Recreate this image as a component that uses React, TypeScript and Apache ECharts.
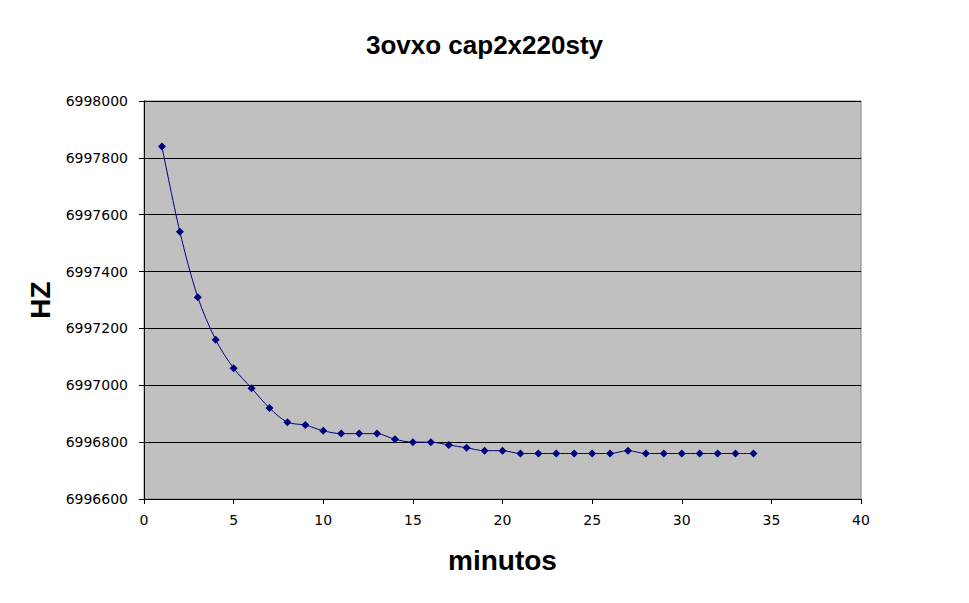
import React, { useEffect, useRef } from "react";
import * as echarts from "echarts";

const minutes = [1,2,3,4,5,6,7,8,9,10,11,12,13,14,15,16,17,18,19,20,21,22,23,24,25,26,27,28,29,30,31,32,33,34];
const hz = [6997840,6997540,6997310,6997160,6997060,6996990,6996920,6996870,6996860,6996840,6996830,6996830,6996830,6996810,6996800,6996800,6996790,6996780,6996770,6996770,6996760,6996760,6996760,6996760,6996760,6996760,6996770,6996760,6996760,6996760,6996760,6996760,6996760,6996760];

const titleText = "3ovxo cap2x220sty";
const xName = "minutos";
const yName = "HZ";

export default function App() {
  const ref = useRef<HTMLDivElement>(null);
  useEffect(() => {
    const chart = echarts.init(ref.current!, null, { renderer: "svg" });
    const font = "Arial, 'Liberation Sans', sans-serif";
    const tickFont = "'DejaVu Sans', sans-serif";
    chart.setOption({
      animation: false,
      backgroundColor: "#ffffff",
      title: {
        text: titleText,
        left: "center",
        top: 27,
        textStyle: { fontFamily: font, fontSize: 26, fontWeight: "bold", color: "#000" },
      },
      grid: {
        left: 144, top: 101, right: 108, bottom: 104,
        show: true, backgroundColor: "#c0c0c0", borderColor: "#808080", borderWidth: 1,
      },
      xAxis: {
        type: "value", min: 0, max: 40, interval: 5,
        name: xName, nameLocation: "middle", nameGap: 47,
        nameTextStyle: { fontFamily: font, fontSize: 28, fontWeight: "bold", color: "#000" },
        axisLine: { show: true, lineStyle: { color: "#000", width: 1 } },
        axisTick: { show: true, inside: false, length: 5, lineStyle: { color: "#000" } },
        axisLabel: { fontFamily: tickFont, fontSize: 14, color: "#000", margin: 14 },
        splitLine: { show: false },
      },
      yAxis: {
        type: "value", min: 6996600, max: 6998000, interval: 200,
        name: yName, nameLocation: "middle", nameGap: 90, nameRotate: 90,
        nameTextStyle: { fontFamily: font, fontSize: 28, fontWeight: "bold", color: "#000" },
        axisLine: { show: true, lineStyle: { color: "#000", width: 1 } },
        axisTick: { show: true, inside: false, length: 5, lineStyle: { color: "#000" } },
        axisLabel: { fontFamily: tickFont, fontSize: 14, color: "#000", margin: 16, formatter: (v: number) => String(v) },
        splitLine: { show: true, lineStyle: { color: "#000", width: 1 } },
      },
      series: [{
        type: "line",
        data: minutes.map((m, i) => [m, hz[i]]),
        smooth: 0.3,
        symbol: "diamond",
        symbolSize: 8,
        itemStyle: { color: "#000080" },
        lineStyle: { color: "#000080", width: 1 },
      }],
    });
    return () => chart.dispose();
  }, []);
  return <div ref={ref} style={{ width: 969, height: 603, position: "absolute", left: 0, top: 0 }} />;
}
